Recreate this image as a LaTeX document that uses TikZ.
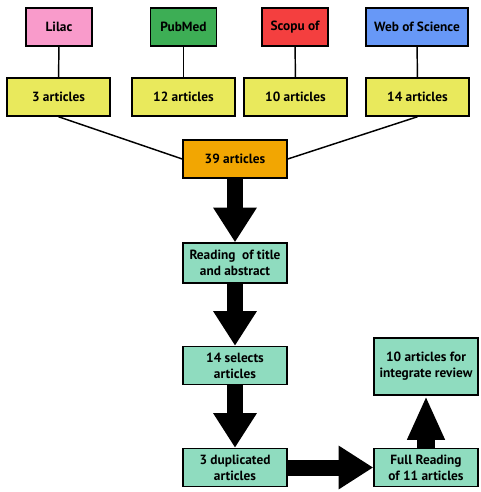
\documentclass[tikz,border=0pt]{standalone}
\usepackage{fontspec}
\setmainfont{PT Sans}
\usepackage{xcolor}
\usetikzlibrary{arrows.meta,positioning}

\definecolor{lilacpink}{HTML}{F99BCB}
\definecolor{pubgreen}{HTML}{3DAE55}
\definecolor{scopred}{HTML}{F43F3F}
\definecolor{wosblue}{HTML}{6798F7}
\definecolor{countyellow}{HTML}{E9E95C}
\definecolor{totalorange}{HTML}{F2A602}
\definecolor{stepteal}{HTML}{8FDCBF}

\begin{document}
\begin{tikzpicture}[x=0.75pt,y=-0.75pt,
    box/.style={draw=black,line width=1.1pt,font=\bfseries\fontsize{10}{12}\selectfont,
      align=center,inner sep=2pt,minimum height=28.5pt},
    base/.style={box,minimum width=49.5pt},
    count/.style={box,fill=countyellow,minimum width=77.5pt},
    stage/.style={box,fill=stepteal,minimum width=78pt},
    link/.style={line width=1.1pt},
    bigarrow/.style={line width=12pt,-{Triangle[length=26pt,width=31pt]}}]
    \useasboundingbox (0,0) rectangle (480,492);

    % Databases
    \node[base,fill=lilacpink] (lilac) at (59,27) {Lilac};
    \node[base,fill=pubgreen] (pubmed) at (183.5,27) {PubMed};
    \node[base,fill=scopred] (scopus) at (295,27) {Scopu of};
    \node[base,fill=wosblue,minimum width=76.5pt] (wos) at (417,27) {Web of Science};

    % Articles found per database
    \node[count] (lilacn) at (58.5,97) {3 articles};
    \node[count] (pubmedn) at (183.5,97) {12 articles};
    \node[count] (scopusn) at (295.5,97) {10 articles};
    \node[count] (wosn) at (417.5,97) {14 articles};

    \draw[link] (lilac) -- (lilacn);
    \draw[link] (pubmed) -- (pubmedn);
    \draw[link] (scopus) -- (scopusn);
    \draw[link] (wos) -- (wosn);

    % Total
    \node[box,fill=totalorange,minimum width=78pt] (total) at (235,159) {39 articles};
    \draw[link] (lilacn.south) -- (total.west);
    \draw[link] (wosn.south) -- (total.east);

    % Screening steps
    \node[stage,minimum height=30pt] (reading) at (235,263) {Reading\ \ of title\\and abstract};
    \node[stage] (selects) at (235,365.5) {14 selects\\articles};
    \node[stage] (dupl) at (235,467.5) {3 duplicated\\articles};
    \node[stage] (full) at (426,467.5) {Full Reading\\of 11 articles};
    \node[stage,minimum height=43pt] (review) at (426,366.5) {10 articles for\\integrate review};

    \draw[bigarrow] (total) -- (reading);
    \draw[bigarrow] (reading) -- (selects);
    \draw[bigarrow] (selects) -- (dupl);
    \draw[bigarrow] (dupl) -- (full);
    \draw[bigarrow,line width=14pt,-{Triangle[length=33pt,width=26pt]}] (full) -- (review);
\end{tikzpicture}
\end{document}
